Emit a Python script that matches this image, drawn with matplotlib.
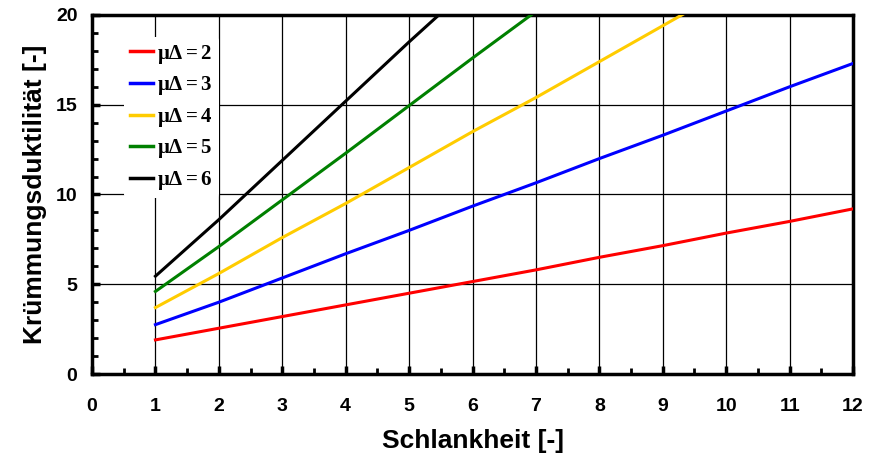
import numpy as np
import matplotlib.pyplot as plt
from matplotlib.ticker import MultipleLocator

# Krümmungsduktilität über Schlankheit für verschiedene Verschiebeduktilitäten
schlankheit = [1, 2, 3, 4, 5, 6, 7, 8, 9, 10, 11, 12]
mu2 = [1.9, 2.55, 3.2, 3.85, 4.5, 5.15, 5.8, 6.5, 7.15, 7.85, 8.5, 9.2]
mu3 = [2.75, 4.0, 5.35, 6.7, 8.0, 9.35, 10.65, 12.0, 13.3, 14.65, 16.0, 17.3]
mu4 = [3.7, 5.6, 7.6, 9.5, 11.5, 13.5, 15.4, 17.4, 19.4, 21.4]
mu5 = [4.6, 7.1, 9.7, 12.3, 14.95, 17.6, 20.2]
mu6 = [5.45, 8.6, 11.9, 15.2, 18.5, 21.7]

kurven = [
    (mu2, 'red', r'$\mathbf{\mu\Delta = 2}$'),
    (mu3, 'blue', r'$\mathbf{\mu\Delta = 3}$'),
    (mu4, '#FFCC00', r'$\mathbf{\mu\Delta = 4}$'),
    (mu5, 'green', r'$\mathbf{\mu\Delta = 5}$'),
    (mu6, 'black', r'$\mathbf{\mu\Delta = 6}$'),
]

plt.rcParams['mathtext.fontset'] = 'custom'
plt.rcParams['mathtext.rm'] = 'Liberation Serif'
plt.rcParams['mathtext.bf'] = 'Liberation Serif:bold'
plt.rcParams['mathtext.it'] = 'Liberation Serif:italic:bold'

fig = plt.figure(figsize=(8.79, 4.57), dpi=100)
ax = fig.add_axes([0.1047, 0.1816, 0.8657, 0.7856])

for werte, farbe, name in kurven:
    ax.plot(schlankheit[:len(werte)], werte, color=farbe, lw=2.2,
            label=name, zorder=3)

ax.set_xlim(0, 12)
ax.set_ylim(0, 20)
ax.xaxis.set_major_locator(MultipleLocator(1))
ax.xaxis.set_minor_locator(MultipleLocator(0.5))
ax.yaxis.set_major_locator(MultipleLocator(5))
ax.yaxis.set_minor_locator(MultipleLocator(1))
ax.grid(which='major', color='black', lw=0.9, zorder=1)

for s in ax.spines.values():
    s.set_linewidth(2.5)
ax.tick_params(which='major', direction='in', length=6, width=2.5,
               labelsize=14, pad=17)
ax.tick_params(which='minor', direction='in', length=4, width=2)
ax.tick_params(axis='y', which='major', pad=10.5)
for lbl in ax.get_xticklabels() + ax.get_yticklabels():
    lbl.set_fontfamily('Liberation Sans')
    lbl.set_fontweight('bold')

ax.set_xlabel('Schlankheit [-]', fontsize=19, fontweight='bold',
              family='Liberation Sans', labelpad=10)
ax.set_ylabel('Krümmungsduktilität [-]', fontsize=19, fontweight='bold',
              family='Liberation Sans', labelpad=6.5)

leg = ax.legend(loc='upper left', bbox_to_anchor=(0.028, 0.969), frameon=True,
                fontsize=15, handlelength=1.1, handletextpad=0.2,
                labelspacing=0.41, borderpad=0.3)
leg.get_frame().set_edgecolor('none')
leg.get_frame().set_facecolor('white')
leg.get_frame().set_alpha(1)
leg.set_zorder(5)
for h in leg.get_lines():
    h.set_linewidth(2.5)

fig.savefig('out.png', dpi=100)
